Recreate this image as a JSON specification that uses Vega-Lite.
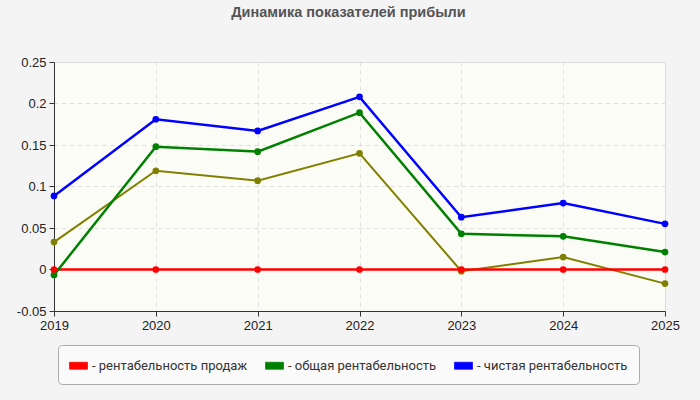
{
  "$schema": "https://vega.github.io/schema/vega-lite/v6.json",
  "autosize": {"type": "none"},
  "width": 611,
  "height": 249,
  "padding": {"left": 54, "top": 62, "right": 35, "bottom": 89},
  "background": "#f4f4f4",
  "title": {
    "text": "Динамика показателей прибыли",
    "font": "Liberation Sans",
    "fontSize": 14.5,
    "fontWeight": "bold",
    "color": "#555555",
    "anchor": "middle",
    "dx": -11,
    "offset": 36
  },
  "config": {
    "view": {"fill": "#fcfcf6", "stroke": "#dddddd"},
    "axis": {
      "labelFont": "Liberation Sans",
      "labelFontSize": 13,
      "labelColor": "#222222",
      "domainColor": "#333333",
      "tickColor": "#333333",
      "tickSize": 5,
      "gridColor": "#dddddd",
      "gridDash": [4, 4],
      "title": null
    }
  },
  "data": {
    "values": [
      {"year": "2019", "series": "рентабельность продаж", "value": 0},
      {"year": "2020", "series": "рентабельность продаж", "value": 0},
      {"year": "2021", "series": "рентабельность продаж", "value": 0},
      {"year": "2022", "series": "рентабельность продаж", "value": 0},
      {"year": "2023", "series": "рентабельность продаж", "value": 0},
      {"year": "2024", "series": "рентабельность продаж", "value": 0},
      {"year": "2025", "series": "рентабельность продаж", "value": 0},
      {"year": "2019", "series": "общая рентабельность", "value": -0.0066},
      {"year": "2020", "series": "общая рентабельность", "value": 0.148},
      {"year": "2021", "series": "общая рентабельность", "value": 0.142},
      {"year": "2022", "series": "общая рентабельность", "value": 0.189},
      {"year": "2023", "series": "общая рентабельность", "value": 0.043},
      {"year": "2024", "series": "общая рентабельность", "value": 0.040},
      {"year": "2025", "series": "общая рентабельность", "value": 0.021},
      {"year": "2019", "series": "чистая рентабельность", "value": 0.0886},
      {"year": "2020", "series": "чистая рентабельность", "value": 0.181},
      {"year": "2021", "series": "чистая рентабельность", "value": 0.167},
      {"year": "2022", "series": "чистая рентабельность", "value": 0.208},
      {"year": "2023", "series": "чистая рентабельность", "value": 0.063},
      {"year": "2024", "series": "чистая рентабельность", "value": 0.080},
      {"year": "2025", "series": "чистая рентабельность", "value": 0.055},
      {"year": "2019", "series": "прочая", "value": 0.033},
      {"year": "2020", "series": "прочая", "value": 0.119},
      {"year": "2021", "series": "прочая", "value": 0.107},
      {"year": "2022", "series": "прочая", "value": 0.140},
      {"year": "2023", "series": "прочая", "value": -0.002},
      {"year": "2024", "series": "прочая", "value": 0.015},
      {"year": "2025", "series": "прочая", "value": -0.017}
    ]
  },
  "encoding": {
    "x": {
      "field": "year",
      "type": "ordinal",
      "scale": {"type": "point", "padding": 0},
      "axis": {"labelAngle": 0, "grid": true, "labelPadding": 3}
    },
    "y": {
      "field": "value",
      "type": "quantitative",
      "scale": {"domain": [-0.05, 0.25], "nice": false, "zero": false},
      "axis": {
        "values": [-0.05, 0, 0.05, 0.1, 0.15, 0.2, 0.25],
        "labelExpr": "replace(format(datum.value, '.2~f'), '\u2212', '-')",
        "grid": true,
        "labelPadding": 3
      }
    }
  },
  "layer": [
    {
      "transform": [{"filter": "datum.series == 'прочая'"}],
      "mark": {"type": "line", "color": "#808000", "strokeWidth": 2, "point": {"filled": true, "size": 45, "color": "#808000"}},
      "encoding": {}
    },
    {
      "transform": [{"filter": "datum.series != 'прочая'"}],
      "mark": {"type": "line", "strokeWidth": 2.5, "point": {"filled": true, "size": 45}},
      "encoding": {
        "color": {
          "field": "series",
          "type": "nominal",
          "scale": {
            "domain": ["рентабельность продаж", "общая рентабельность", "чистая рентабельность"],
            "range": ["#ff0000", "#008000", "#0000ff"]
          },
          "legend": {
            "title": null,
            "orient": "none",
            "legendX": 4,
            "legendY": 283,
            "direction": "horizontal",
            "padding": 11,
            "fillColor": "#fafafa",
            "strokeColor": "#aaaaaa",
            "cornerRadius": 4,
            "symbolType": "M-1,-0.39H1V0.39H-1Z",
            "symbolSize": 324,
            "symbolStrokeColor": "#555555",
            "symbolStrokeWidth": 0.7,
            "labelFont": "Roboto",
            "labelFontSize": 13,
            "labelColor": "#333333",
            "labelOffset": 4,
            "columnPadding": 16,
            "labelExpr": "'- ' + datum.label"
          }
        },
        "order": {"field": "series"}
      }
    }
  ]
}
